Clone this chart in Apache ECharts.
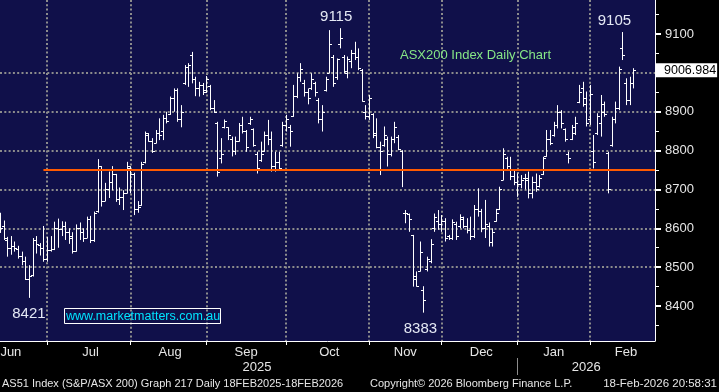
<!DOCTYPE html>
<html><head><meta charset="utf-8">
<script src="https://cdn.jsdelivr.net/npm/echarts@6.0.0/dist/echarts.min.js"></script>
<style>html,body{margin:0;padding:0;background:#000;}#c{width:719px;height:392px;}</style>
</head><body><div id="c"></div>
<script>
// Trading days shown (ASX), by month
const tradingDays = {
  '2025-06': [12,13,16,17,18,19,20,23,24,25,26,27,30],
  '2025-07': [1,2,3,4,7,8,9,10,11,14,15,16,17,18,21,22,23,24,25,28,29,30,31],
  '2025-08': [1,4,5,6,7,8,11,12,13,14,15,18,19,20,21,22,25,26,27,28,29],
  '2025-09': [1,2,3,4,5,8,9,10,11,12,15,16,17,18,19,22,23,24,25,26,29,30],
  '2025-10': [1,2,3,6,7,8,9,10,13,14,15,16,17,20,21,22,23,24,27,28,29,30,31],
  '2025-11': [3,4,5,6,7,10,11,12,13,14,17,18,19,20,21,24,25,26,27,28],
  '2025-12': [1,2,3,4,5,8,9,10,11,12,15,16,17,18,19,22,23,24,29,30,31],
  '2026-01': [2,5,6,7,8,9,12,13,14,15,16,19,20,21,22,23,27,28,29,30],
  '2026-02': [2,3,4,5,6,9,10,11,12,13,16,17,18]
};
const opens = [8630,8605,8570,8550,8555,8548,8530,8515,8470,8480,8570,8558,8550,
 8520,8545,8548,8600,8598,8605,8590,8580,8542,8600,8590,8575,8625,8570,8645,8760,8670,8700,8720,8740,8675,8680,8690,
 8755,8740,8650,8660,8770,8840,8825,8820,8845,8850,8885,8895,8935,8955,8880,8975,9015,9045,8985,8960,8970,
 8955,8965,8910,8870,8780,8860,8860,8830,8800,8825,8865,8850,8870,8855,8790,8775,8800,8840,8830,8760,8770,8815,
 8865,8860,8890,8940,8990,8975,8950,8960,8975,8930,8880,8955,9000,9040,8990,9075,9040,9000,9030,9050,9040,9007,8900,
 8890,8895,8840,8810,8815,8830,8790,8830,8835,8800,8640,8638,8583,8478,8490,8440,8495,8515,8600,8620,
 8610,8620,8580,8575,8610,8605,8625,8605,8595,8580,8650,8645,8600,8605,8565,8620,8650,8725,8780,8760,8735,
 8720,8715,8730,8730,8690,8720,8710,8740,8785,8830,8840,8865,8900,8855,8790,8830,8845,8925,8960,8935,
 8880,8800,8845,8870,8920,8795,8815,8880,8910,9065,8975,8930,8975];
const highs = [8640,8620,8578,8580,8566,8555,8540,8527,8505,8575,8580,8562,8606,
 8578,8580,8617,8625,8618,8617,8600,8590,8610,8615,8600,8630,8632,8643,8778,8760,8717,8746,8760,8740,8705,8698,8771,
 8760,8743,8670,8771,8849,8845,8832,8853,8883,8892,8900,8939,8960,8960,8917,9020,9025,9054,8990,8977,8974,
 8992,8969,8930,8874,8832,8880,8860,8836,8836,8871,8887,8853,8887,8857,8797,8823,8849,8879,8849,8797,8797,8874,
 8892,8866,8969,8999,9025,8982,8960,8999,8977,8935,8917,8990,9110,9046,9037,9115,9046,9042,9059,9080,9063,9010,8917,
 8943,8896,8883,8823,8862,8836,8836,8874,8840,8801,8647,8638,8583,8489,8566,8451,8527,8572,8638,8647,
 8634,8626,8583,8623,8617,8636,8630,8626,8630,8660,8703,8650,8673,8615,8600,8650,8707,8806,8784,8784,8750,
 8741,8737,8740,8746,8733,8741,8737,8784,8853,8853,8874,8917,8904,8857,8797,8866,8887,8969,8977,8952,
 8969,8840,8896,8943,8926,8797,8887,8926,9016,9105,8986,8990,9012];
const lows = [8588,8570,8527,8532,8540,8522,8505,8467,8421,8476,8535,8530,8514,
 8514,8540,8544,8550,8580,8570,8560,8535,8540,8570,8565,8575,8562,8565,8640,8656,8670,8678,8698,8668,8660,8647,8690,
 8690,8634,8640,8658,8767,8823,8794,8819,8827,8827,8870,8892,8900,8874,8860,8969,8964,8973,8940,8939,8943,
 8948,8904,8897,8733,8767,8857,8827,8785,8789,8823,8844,8797,8866,8810,8741,8771,8797,8814,8746,8746,8750,8810,
 8849,8810,8887,8935,8977,8939,8919,8956,8939,8870,8849,8952,8999,8964,8982,9063,8999,8986,9012,9033,9007,8926,8880,
 8879,8832,8806,8737,8810,8759,8785,8819,8801,8706,8613,8591,8450,8450,8489,8383,8489,8510,8591,8596,
 8591,8566,8570,8570,8570,8600,8600,8587,8570,8575,8630,8590,8575,8553,8553,8617,8647,8724,8750,8724,8711,
 8681,8703,8700,8677,8677,8694,8705,8737,8784,8814,8836,8857,8857,8823,8767,8827,8840,8922,8913,8862,
 8866,8754,8840,8836,8887,8690,8810,8870,8904,9033,8917,8917,8960];
const closes = [8600,8575,8550,8555,8550,8530,8515,8470,8478,8570,8560,8550,8520,
 8545,8546,8600,8598,8605,8590,8575,8542,8600,8590,8575,8625,8570,8640,8760,8670,8700,8720,8740,8675,8680,8690,8760,
 8740,8650,8655,8765,8845,8825,8800,8845,8840,8885,8875,8935,8955,8880,8900,9015,9020,8985,8960,8970,8950,
 8985,8910,8900,8745,8790,8875,8840,8800,8825,8865,8850,8810,8880,8815,8755,8790,8840,8830,8760,8770,8755,8865,
 8880,8850,8940,8990,9010,8950,8935,8985,8950,8880,8900,8985,9075,8975,9035,9090,9005,9035,9050,9040,9012,8928,8890,
 8935,8845,8810,8800,8840,8790,8830,8860,8805,8750,8640,8625,8470,8452,8540,8415,8520,8560,8630,8610,
 8620,8575,8575,8615,8580,8630,8605,8595,8580,8650,8645,8600,8610,8565,8590,8640,8700,8790,8760,8735,8720,
 8715,8725,8725,8690,8720,8700,8730,8780,8830,8820,8865,8900,8870,8830,8780,8860,8870,8950,8920,8870,
 8945,8770,8890,8900,8895,8700,8880,8910,9010,9045,8930,8975,9006.984];

const monthAbbr = {'01':'Jan','02':'Feb','06':'Jun','07':'Jul','08':'Aug','09':'Sep','10':'Oct','11':'Nov','12':'Dec'};
const yTicks = [8400,8500,8600,8700,8800,8900,9000,9100];
const yMinorTicks = [8350,8450,8550,8650,8750,8850,8950,9050,9150];
const refLevel = 8750;
const extremes = [{i:8, kind:'low'}, {i:94, kind:'high'}, {i:117, kind:'low'}, {i:172, kind:'high'}];

// ---- build ----
const dates = [];
const monthStart = [];
Object.keys(tradingDays).forEach(m => {
  monthStart.push(dates.length);
  tradingDays[m].forEach(d => dates.push(m + '-' + String(d).padStart(2, '0')));
});
const PAD = 6;
const cats = dates.slice();
for (let k = 0; k < PAD; k++) cats.push('pad' + k);
const gridStarts = new Set(monthStart.slice(1));
const monthLabelIdx = new Set([3,25,47,68,91,112,133,153,173]);
const yearLabelIdx = new Set([71,162]);
const yearSep = monthStart[7];
const lastClose = closes[closes.length - 1];
const ohlc = dates.map((d, i) => [d, opens[i], highs[i], lows[i], closes[i]]);
const FONT = 'Liberation Sans, Arial, sans-serif';
const dotted = {color: '#8c8c8c', width: 2, type: [2, 2.3]};
const labelDx = {8: 0, 94: -4, 117: -3, 172: -8};

function renderItem(params, api) {
  const xi = api.value(0);
  const x = Math.round(api.coord([xi, api.value(2)])[0]) + 0.5;
  const yo = Math.round(api.coord([xi, api.value(1)])[1]) + 0.5;
  const yh = api.coord([xi, api.value(2)])[1];
  const yl = api.coord([xi, api.value(3)])[1];
  const yc = Math.round(api.coord([xi, api.value(4)])[1]) + 0.5;
  const t = 2.5;
  const st = {stroke: '#ffffff', lineWidth: 1};
  return {type: 'group', children: [
    {type: 'line', shape: {x1: x, y1: yh, x2: x, y2: yl}, style: st},
    {type: 'line', shape: {x1: x - t, y1: yo, x2: x, y2: yo}, style: st},
    {type: 'line', shape: {x1: x, y1: yc, x2: x + t, y2: yc}, style: st}
  ]};
}

const chart = echarts.init(document.getElementById('c'), null, {renderer: 'canvas'});
chart.setOption({
  backgroundColor: '#000000',
  animation: false,
  textStyle: {fontFamily: FONT},
  title: [
    {text: 'ASX200 Index Daily Chart', left: 400, top: 49, padding: 0,
     textStyle: {color: '#86e686', fontSize: 13, fontWeight: 'normal', fontFamily: FONT}},
    {text: 'www.marketmatters.com.au', left: 64, top: 308, padding: [2, 1, 1, 2],
     borderColor: '#ffffff', borderWidth: 1,
     textStyle: {color: '#00e4ff', fontSize: 12.5, fontWeight: 'normal', fontFamily: FONT}},
    {text: 'AS51 Index (S&P/ASX 200) Graph 217 Daily 18FEB2025-18FEB2026', left: 2, top: 378, padding: 0,
     textStyle: {color: '#e6e6e6', fontSize: 11, fontWeight: 'normal', fontFamily: FONT}},
    {text: 'Copyright\u00a9 2026 Bloomberg Finance L.P.', left: 370, top: 378, padding: 0,
     textStyle: {color: '#e6e6e6', fontSize: 11, fontWeight: 'normal', fontFamily: FONT}},
    {text: '18-Feb-2026 20:58:31', right: 2, top: 378, padding: 0,
     textStyle: {color: '#e6e6e6', fontSize: 11.5, fontWeight: 'normal', fontFamily: FONT}}
  ],
  grid: {left: 0, right: 64, top: 0, bottom: 51, show: true, backgroundColor: '#10104a',
         borderWidth: 0, containLabel: false, outerBoundsMode: 'none'},
  xAxis: [
    {type: 'category', data: cats, boundaryGap: false, position: 'bottom',
     axisLine: {show: true, lineStyle: {color: '#ffffff', width: 1}},
     axisTick: {show: true, interval: (i) => gridStarts.has(i), length: 4, lineStyle: {color: '#ffffff'}},
     axisLabel: {show: true, interval: (i) => monthLabelIdx.has(i),
       formatter: (v) => monthAbbr[v.slice(5, 7)] || '',
       color: '#e6e6e6', fontSize: 13, margin: 5, fontFamily: FONT},
     splitLine: {show: true, interval: (i) => gridStarts.has(i), lineStyle: dotted}},
    {type: 'category', data: cats, boundaryGap: false, position: 'bottom', offset: 17,
     axisLine: {show: false},
     axisTick: {show: true, interval: (i) => i === yearSep, length: 17, lineStyle: {color: '#8c8c8c'}},
     axisLabel: {show: true, interval: (i) => yearLabelIdx.has(i),
       formatter: (v) => v.slice(0, 4), color: '#e6e6e6', fontSize: 13, margin: 3, fontFamily: FONT},
     splitLine: {show: false}}
  ],
  yAxis: [
    {type: 'value', position: 'right', min: 8310, max: 9187.5, minInterval: 100, maxInterval: 100,
     axisLine: {show: true, lineStyle: {color: '#ffffff', width: 1}},
     axisTick: {show: true, customValues: yTicks, length: 6, lineStyle: {color: '#ffffff', width: 2}},
     axisLabel: {show: true, customValues: yTicks, formatter: (v) => String(v),
       color: '#e6e6e6', fontSize: 13, margin: 10, fontFamily: FONT},
     splitLine: {show: true, showMinLine: false, showMaxLine: false, lineStyle: dotted}},
    {type: 'value', position: 'right', min: 8310, max: 9187.5,
     axisLine: {show: false},
     axisTick: {show: true, customValues: yMinorTicks, length: 4, lineStyle: {color: '#ffffff', width: 1}},
     axisLabel: {show: false}, splitLine: {show: false}}
  ],
  series: [{
    type: 'custom', name: 'AS51', xAxisIndex: 0, yAxisIndex: 0,
    data: ohlc, encode: {x: 0, y: [1, 2, 3, 4]}, renderItem: renderItem, clip: true, z: 3,
    markLine: {
      symbol: ['none', 'none'], silent: true, animation: false,
      data: [
        [{coord: [cats[12], refLevel], lineStyle: {color: '#ff5a00', width: 2, type: 'solid'}, label: {show: false}},
         {coord: [cats[cats.length - 1], refLevel]}],
        {yAxis: lastClose, lineStyle: {color: 'rgba(0,0,0,0)', width: 0},
         label: {show: true, position: 'end', distance: 1, formatter: lastClose.toFixed(3),
                 backgroundColor: '#ffffff', color: '#000000', fontSize: 12.5, padding: [1, 1, 0, 8],
                 fontFamily: FONT, opacity: 1}}
      ]
    },
    markPoint: {
      symbol: 'circle', symbolSize: 1, silent: true, animation: false,
      itemStyle: {color: 'rgba(0,0,0,0)'},
      data: extremes.map(e => {
        const v = e.kind === 'high' ? highs[e.i] : lows[e.i];
        return {coord: [dates[e.i], v], value: v,
          label: {show: true, position: e.kind === 'high' ? 'top' : 'bottom',
                  distance: e.kind === 'high' ? 3 : 8, offset: [labelDx[e.i], 0],
                  formatter: String(v), color: '#e4e8f4', fontSize: 15,
                  fontFamily: 'Liberation Sans Narrow, Liberation Sans, Arial, sans-serif'}};
      })
    }
  }]
});
</script>
</body></html>
